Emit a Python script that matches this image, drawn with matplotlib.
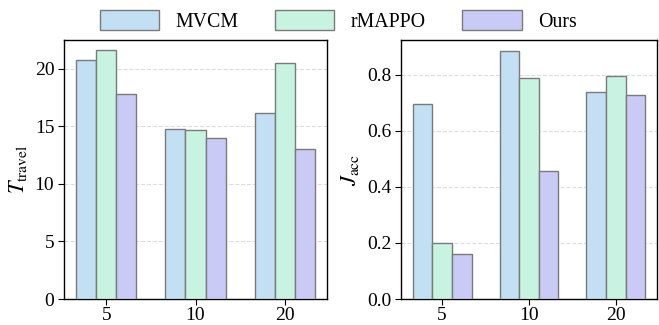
import matplotlib
matplotlib.use("Agg")
import matplotlib.pyplot as plt
import numpy as np

plt.rcParams['font.family'] = ['Liberation Serif', 'DejaVu Serif']
plt.rcParams['mathtext.fontset'] = 'stix'

categories = ['5', '10', '20']
methods = ['MVCM', 'rMAPPO', 'Ours']
t_travel = {
    'MVCM':   [20.8, 14.8, 16.2],
    'rMAPPO': [21.6, 14.7, 20.5],
    'Ours':   [17.8, 14.0, 13.0],
}
j_acc = {
    'MVCM':   [0.696, 0.885, 0.736],
    'rMAPPO': [0.198, 0.787, 0.794],
    'Ours':   [0.159, 0.455, 0.728],
}
colors = ['#c3dff3', '#c9f3e1', '#cacaf7']
edge = '#7a7a7a'

W, H = 659, 325
fig = plt.figure(figsize=(W/100, H/100), dpi=100)
ax1 = fig.add_axes([64/W, 26/H, 263/W, 259/H])
ax2 = fig.add_axes([401/W, 26/H, 256/W, 259/H])

x = np.arange(len(categories))
bw = 0.226
for ax, data in [(ax1, t_travel), (ax2, j_acc)]:
    for i, m in enumerate(methods):
        ax.bar(x + (i - 1) * bw, data[m], bw, color=colors[i], edgecolor=edge,
               linewidth=1.0, label=m, zorder=3)
    ax.set_xticks(x)
    ax.set_xticklabels(categories)
    ax.grid(axis='y', linestyle='--', color='#dddddd', linewidth=0.8, zorder=0)
    ax.tick_params(labelsize=14, direction='out', length=4, pad=3)
    ax.tick_params(axis='x', pad=2)
    for s in ax.spines.values():
        s.set_linewidth(1.0)

ax1.set_ylim(0, 22.5)
ax1.set_yticks([0, 5, 10, 15, 20])
ax2.set_ylim(0, 0.923)
ax2.set_yticks([0.0, 0.2, 0.4, 0.6, 0.8])
ax2.set_yticklabels(['0.0', '0.2', '0.4', '0.6', '0.8'])
ax1.set_ylabel(r'$T_{\mathrm{travel}}$', fontsize=16, labelpad=4)
ax2.set_ylabel(r'$J_{\mathrm{acc}}$', fontsize=16, labelpad=4)

handles, labels = ax1.get_legend_handles_labels()
fig.legend(handles, labels, loc='upper center', bbox_to_anchor=(0.513, 1.025), ncol=3,
           frameon=False, fontsize=14.3, handlelength=3.0, handleheight=1.2,
           handletextpad=0.8, columnspacing=1.85)

fig.savefig('out.png', dpi=100)
